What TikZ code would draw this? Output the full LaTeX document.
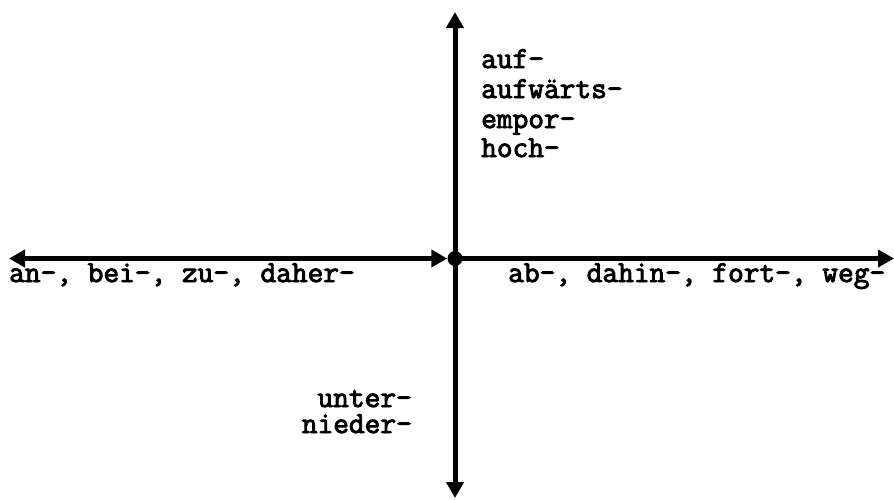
\documentclass[tikz,border=0pt]{standalone}
\usepackage{fontspec}
\setmonofont{Latin Modern Mono}[AutoFakeBold=3]
\usetikzlibrary{arrows.meta}
\tikzset{
  axis/.style={line width=5pt, -{Triangle[length=16pt,width=17pt]}},
  lbl/.style={font=\ttfamily\bfseries\fontsize{30.5}{30}\selectfont, inner sep=0pt, text=black},
}
\begin{document}
\begin{tikzpicture}[x=1pt,y=-1pt]
\useasboundingbox (0,0) rectangle (894,499);
\fill[white] (0,0) rectangle (894,499);
\node[circle, fill=black, minimum size=15pt, inner sep=0pt] (c) at (455,258.5) {};
\coordinate (L) at (9,258.5);
\coordinate (R) at (894,258.5);
\coordinate (T) at (455,12);
\coordinate (B) at (455,498);
\draw[axis, {Triangle[length=16pt,width=17pt]}-{Triangle[length=16pt,width=17pt]}] (L) -- (c.west);
\draw[axis] (c.center) -- (R);
\draw[axis] (c.center) -- (T);
\draw[axis] (c.center) -- (B);
\node[lbl, anchor=base west] (u1) at (481,68) {auf-};
\node[lbl, anchor=base west] (u2) at (481,98) {aufwärts-};
\node[lbl, anchor=base west] (u3) at (481,128) {empor-};
\node[lbl, anchor=base west] (u4) at (481,157) {hoch-};
\node[lbl, anchor=base west] (l) at (9,282) {an-, bei-, zu-, daher-};
\node[lbl, anchor=base west] (r) at (508,282) {ab-, dahin-, fort-, weg-};
\node[lbl, anchor=base east] (d1) at (412,407) {unter-};
\node[lbl, anchor=base east] (d2) at (412,433) {nieder-};
\end{tikzpicture}
\end{document}
